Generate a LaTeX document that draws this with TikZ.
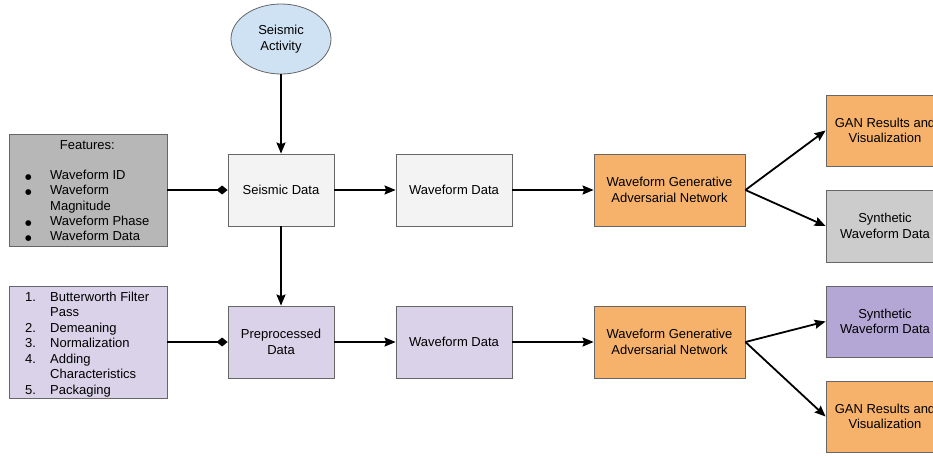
\documentclass[tikz,border=0pt]{standalone}
\usepackage{fontspec}
\setmainfont{Liberation Sans}
\newfontfamily\dvfont{DejaVu Sans}
\newcommand{\bigbul}{{\dvfont\fontsize{7.5}{10}\selectfont ●}}
\usetikzlibrary{arrows.meta,shapes.geometric}
\definecolor{sblue}{HTML}{CFE2F3}
\definecolor{lgray}{HTML}{F3F3F3}
\definecolor{featgray}{HTML}{B7B7B7}
\definecolor{gorange}{HTML}{F6B26B}
\definecolor{sgray}{HTML}{CCCCCC}
\definecolor{lav}{HTML}{D9D2E9}
\definecolor{purp}{HTML}{B4A7D6}
\begin{document}
\begin{tikzpicture}[x=1pt,y=-1pt,
  txt/.style={font=\fontsize{13}{15.5}\selectfont},
  box/.style={draw=black!60, line width=0.8pt, minimum height=72, align=center, txt, inner sep=2pt},
  flow/.style={line width=1.8pt, -{Stealth[length=11pt,width=9pt,inset=1.5pt]}},
  link/.style={line width=1.8pt, -{Diamond[length=11pt,width=9pt]}}]
\useasboundingbox (0,0) rectangle (933,455);
\clip (0,0) rectangle (933,455);
% top row
\node[ellipse, draw=black!60, line width=0.8pt, fill=sblue, minimum width=100, minimum height=70, align=center, txt, inner sep=0pt] (act) at (281,39) {Seismic\\Activity};
\node[box, fill=featgray, minimum width=158, minimum height=112] (feat) at (88,190) {};
\node[box, fill=lgray, minimum width=106] (sd) at (281,190) {Seismic Data};
\node[box, fill=lgray, minimum width=116] (wd1) at (454,190) {Waveform Data};
\node[box, fill=gorange, minimum width=151] (gan1) at (669.5,190) {Waveform Generative\\Adversarial Network};
\node[box, fill=gorange, minimum width=118, minimum height=71] (res1) at (885,130.5) {GAN Results and\\Visualization};
\node[box, fill=sgray, minimum width=118] (syn1) at (885,226) {Synthetic\\Waveform Data};
% bottom row
\node[box, fill=lav, minimum width=158, minimum height=112] (steps) at (88,342) {};
\node[box, fill=lav, minimum width=106] (pre) at (281,342) {Preprocessed\\Data};
\node[box, fill=lav, minimum width=116] (wd2) at (454,342) {Waveform Data};
\node[box, fill=gorange, minimum width=151] (gan2) at (669.5,342) {Waveform Generative\\Adversarial Network};
\node[box, fill=purp, minimum width=118, minimum height=71] (syn2) at (885,321.5) {Synthetic\\Waveform Data};
\node[box, fill=gorange, minimum width=118, minimum height=71] (res2) at (885,416.5) {GAN Results and\\Visualization};
% list texts
\node[anchor=north west, inner sep=0pt, font=\fontsize{13}{15.2}\selectfont] (feattxt) at (25,138.4) {%
\begin{tabular}{@{}p{25pt}@{}l@{}}
\multicolumn{2}{@{}c@{}}{Features:}\\
\\
\bigbul&Waveform ID\\
\bigbul&Waveform\\
&Magnitude\\
\bigbul&Waveform Phase\\
\bigbul&Waveform Data
\end{tabular}};
\node[anchor=north west, inner sep=0pt, font=\fontsize{13}{15.5}\selectfont] (stepstxt) at (25,290.2) {%
\begin{tabular}{@{}p{25pt}@{}l@{}}
1.&Butterworth Filter\\
&Pass\\
2.&Demeaning\\
3.&Normalization\\
4.&Adding\\
&Characteristics\\
5.&Packaging
\end{tabular}};
% connectors
\draw[flow] (act) -- (sd);
\draw[flow] (sd) -- (pre);
\draw[link] (feat) -- (sd);
\draw[link] (steps) -- (pre);
\draw[flow] (sd) -- (wd1);
\draw[flow] (wd1) -- (gan1);
\draw[flow] (gan1.east) -- (res1.west);
\draw[flow] (gan1.east) -- (syn1.west);
\draw[flow] (pre) -- (wd2);
\draw[flow] (wd2) -- (gan2);
\draw[flow] (gan2.east) -- (syn2.west);
\draw[flow] (gan2.east) -- (res2.west);
\end{tikzpicture}
\end{document}
